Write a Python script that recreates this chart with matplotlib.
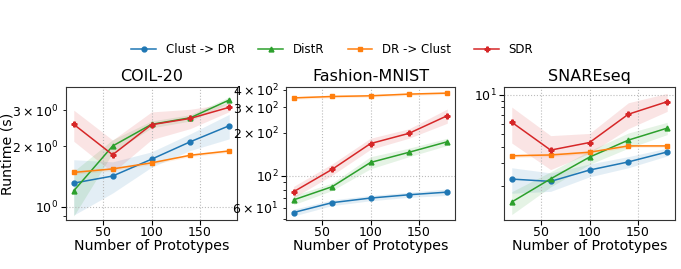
import numpy as np
import matplotlib
matplotlib.use('Agg')
import matplotlib.pyplot as plt

# number of prototypes (x axis)
prototypes = [20, 60, 100, 140, 180]

datasets = ['COIL-20', 'Fashion-MNIST', 'SNAREseq']
methods = ['Clust -> DR', 'DistR', 'DR -> Clust', 'SDR']

# mean runtime (s) per dataset, per method
coil_clust_dr = [1.31, 1.42, 1.72, 2.10, 2.52]
coil_distr = [1.20, 2.00, 2.56, 2.76, 3.38]
coil_dr_clust = [1.48, 1.54, 1.65, 1.80, 1.89]
coil_sdr = [2.56, 1.81, 2.55, 2.74, 3.11]

fmnist_clust_dr = [55.5, 65.0, 70.0, 73.8, 77.0]
fmnist_distr = [68.0, 84.0, 124.0, 146.0, 173.0]
fmnist_dr_clust = [350.0, 358.0, 362.0, 372.0, 378.0]
fmnist_sdr = [77.5, 111.0, 168.0, 198.0, 263.0]

snare_clust_dr = [2.25, 2.16, 2.64, 3.05, 3.64]
snare_distr = [1.50, 2.26, 3.32, 4.49, 5.55]
snare_dr_clust = [3.40, 3.45, 3.62, 4.05, 4.05]
snare_sdr = [6.16, 3.76, 4.30, 7.10, 8.87]

# spread (std) shown as the shaded band
coil_clust_dr_std = [0.40, 0.25, 0.15, 0.20, 0.35]
coil_distr_std = [0.30, 0.15, 0.10, 0.10, 0.12]
coil_dr_clust_std = [0.03, 0.03, 0.03, 0.03, 0.03]
coil_sdr_std = [0.45, 0.33, 0.40, 0.30, 0.15]

fmnist_clust_dr_std = [3.0, 3.0, 3.0, 3.0, 4.0]
fmnist_distr_std = [5.0, 5.0, 12.0, 10.0, 10.0]
fmnist_dr_clust_std = [8.0, 8.0, 8.0, 8.0, 8.0]
fmnist_sdr_std = [7.0, 10.0, 15.0, 15.0, 30.0]

snare_clust_dr_std = [0.50, 0.35, 0.30, 0.30, 0.25]
snare_distr_std = [0.30, 0.30, 0.40, 0.60, 0.60]
snare_dr_clust_std = [0.10, 0.10, 0.10, 0.10, 0.10]
snare_sdr_std = [1.90, 1.10, 0.75, 1.60, 1.40]

means = [
    [coil_clust_dr, coil_distr, coil_dr_clust, coil_sdr],
    [fmnist_clust_dr, fmnist_distr, fmnist_dr_clust, fmnist_sdr],
    [snare_clust_dr, snare_distr, snare_dr_clust, snare_sdr],
]
stds = [
    [coil_clust_dr_std, coil_distr_std, coil_dr_clust_std, coil_sdr_std],
    [fmnist_clust_dr_std, fmnist_distr_std, fmnist_dr_clust_std, fmnist_sdr_std],
    [snare_clust_dr_std, snare_distr_std, snare_dr_clust_std, snare_sdr_std],
]

colors = ['#1f77b4', '#2ca02c', '#ff7f0e', '#d62728']
markers = ['o', '^', 's', 'P']
ylims = [(0.86, 3.92), (49.2, 417), (1.09, 11.5)]
lefts = [66, 286, 504]
widths = [171, 169, 171]

W, H = 681, 269
fig = plt.figure(figsize=(W / 100, H / 100), dpi=100)

x = np.array(prototypes)
for i, name in enumerate(datasets):
    ax = fig.add_axes([lefts[i] / W, 1 - 220 / H, widths[i] / W, 133 / H])
    for j, m in enumerate(methods):
        mu = np.array(means[i][j])
        sd = np.array(stds[i][j])
        ax.plot(x, mu, color=colors[j], marker=markers[j], markersize=3.5,
                linewidth=1.1, label=m)
        ax.fill_between(x, mu - sd, mu + sd, color=colors[j], alpha=0.12,
                        linewidth=0)
    ax.set_yscale('log')
    ax.set_ylim(*ylims[i])
    ax.set_xticks([50, 100, 150])
    ax.grid(True, which='major', linestyle=':', color='#bbbbbb', linewidth=0.8)
    ax.set_title(name, fontsize=11.5, pad=4)
    ax.set_xlabel('Number of Prototypes', fontsize=10.2, labelpad=0)
    ax.tick_params(labelsize=9, pad=2)
    ax.tick_params(axis='x', pad=1)
    ax.tick_params(which='minor', labelsize=9)
    for s in ax.spines.values():
        s.set_color('#333333')
    if i == 0:
        ax.set_ylabel('Runtime (s)', fontsize=10.2)
        ax.yaxis.set_label_coords(-0.30, 0.5)
        handles, labels = ax.get_legend_handles_labels()

fig.legend(handles, labels, loc='center', bbox_to_anchor=(0.488, 1 - 50 / H),
           ncol=4, frameon=False, fontsize=8.5, columnspacing=2.0,
           handlelength=2.1)

fig.savefig('out.png', dpi=100)
